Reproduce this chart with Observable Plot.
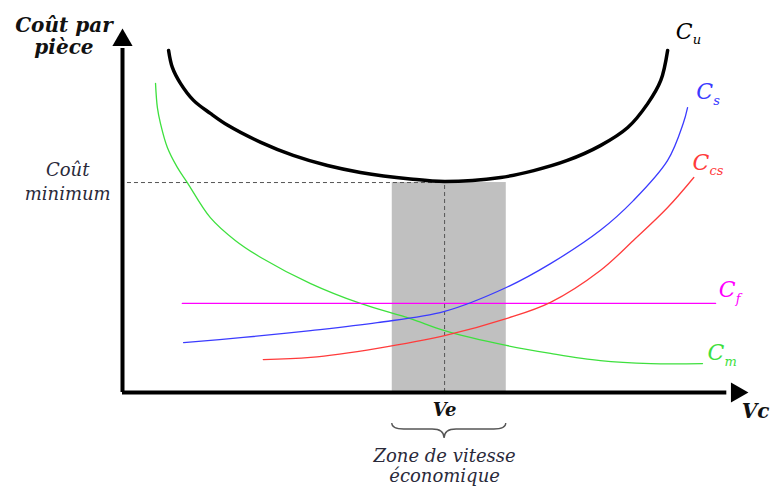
<!DOCTYPE html>
<html><head><meta charset="utf-8">
<script src="https://cdn.jsdelivr.net/npm/d3@7"></script>
<script src="https://cdn.jsdelivr.net/npm/@observablehq/plot@0.6"></script>
<style>body{margin:0;background:#fff}</style>
</head><body><div id="chart"></div>
<script>
// Curves (x = cutting speed Vc, y = cost per part), arbitrary units 0..100
const cuX = [7.4, 8.0, 9.3, 11.4, 14.1, 16.9, 22.2, 27.4, 32.9, 38.2, 46.2, 51.7, 60.7, 66.0, 71.4, 76.7, 81.1, 84.3, 86.4, 87.5];
const cuY = [94.5, 89.8, 85.4, 80.7, 77.1, 73.8, 69.1, 65.5, 62.7, 60.8, 59.0, 58.3, 59.4, 61.3, 64.1, 68.2, 73.2, 79.8, 86.2, 94.5];
const csX = [9.8, 19.4, 30.2, 40.9, 51.7, 61.6, 68.7, 76.7, 82.0, 87.5, 90.0, 90.7];
const csY = [13.8, 15.2, 17.1, 19.3, 22.4, 29.0, 35.6, 44.8, 53.0, 64.1, 74.3, 78.7];
const ccsX = [22.6, 30.2, 40.9, 51.7, 61.6, 68.7, 76.7, 82.0, 87.5, 91.7];
const ccsY = [9.1, 9.7, 12.2, 15.7, 20.4, 24.9, 33.7, 42.0, 51.1, 59.4];
const cfX = [9.6, 95.2];
const cfY = [24.6, 24.6];
const cmX = [5.3, 5.6, 6.1, 7.2, 8.8, 10.4, 14.1, 18.1, 22.2, 30.2, 38.2, 46.2, 51.7, 61.6, 68.7, 76.7, 84.8, 93.1];
const cmY = [85.4, 78.7, 74.3, 67.7, 62.2, 58.0, 48.3, 42.0, 37.3, 30.1, 24.6, 20.4, 17.1, 13.0, 10.8, 8.8, 8.0, 8.0];

const veX = 51.7;           // economic speed
const coutMin = 58.0;       // minimum cost
const zoneX = [43.3, 61.6]; // economic speed zone

// Curve labels
const labelNames = ["C", "C", "C", "C", "C"];
const labelSubs = ["u", "s", "cs", "f", "m"];
const labelX = [88.8, 92.1, 91.5, 95.7, 93.9];
const labelY = [99.7, 82.9, 63.5, 28.2, 10.8];
const labelColors = ["#000000", "#3b3bff", "#ff3b3b", "#ff00ff", "#3ee03e"];
const labelBold = [true, false, false, false, false];

const serif = "'DejaVu Serif', serif";
const toPts = (xs, ys) => xs.map((x, i) => ({x, y: ys[i]}));
const labels = labelNames.map((n, i) => ({n, s: labelSubs[i], x: labelX[i], y: labelY[i], c: labelColors[i], b: labelBold[i]}));

function brace(index, scales) {
  const x0 = scales.x(zoneX[0]), x1 = scales.x(zoneX[1]), xm = scales.x(veX);
  const y0 = scales.y(0);
  const yTop = y0 + 31, yMid = y0 + 37, yTip = y0 + 46;
  const d = `M${x0},${yTop} Q${x0},${yMid} ${x0 + 12},${yMid} L${xm - 12},${yMid} Q${xm},${yMid} ${xm},${yTip} Q${xm},${yMid} ${xm + 12},${yMid} L${x1 - 12},${yMid} Q${x1},${yMid} ${x1},${yTop}`;
  return d3.create("svg:path").attr("d", d).attr("fill", "none").attr("stroke", "#555").attr("stroke-width", 1.3).node();
}

const lineOpts = (stroke, w) => ({x: "x", y: "y", stroke, strokeWidth: w, curve: "catmull-rom"});

const chart = Plot.plot({
  width: 771, height: 488,
  marginLeft: 122, marginRight: 26, marginTop: 30, marginBottom: 96,
  x: {domain: [0, 100], axis: null},
  y: {domain: [0, 100], axis: null},
  style: {fontFamily: serif, background: "#fff"},
  marks: [
    Plot.rectX([{x1: zoneX[0], x2: zoneX[1]}], {x1: "x1", x2: "x2", y1: 0, y2: coutMin, fill: "#c0c0c0"}),
    Plot.ruleY([coutMin], {x1: 0.8, x2: veX, stroke: "#555", strokeWidth: 1, strokeDasharray: "4,3"}),
    Plot.ruleX([veX], {y1: 0, y2: coutMin, stroke: "#555", strokeWidth: 1, strokeDasharray: "4,3"}),
    Plot.line(toPts(cmX, cmY), lineOpts("#3ee03e", 1.3)),
    Plot.line(toPts(cfX, cfY), lineOpts("#ff00ff", 1.3)),
    Plot.line(toPts(ccsX, ccsY), lineOpts("#ff3b3b", 1.3)),
    Plot.line(toPts(csX, csY), lineOpts("#3b3bff", 1.3)),
    Plot.line(toPts(cuX, cuY), lineOpts("#000", 3.5)),
    // axes with arrows
    Plot.ruleX([0], {y1: 0, y2: 95, stroke: "#000", strokeWidth: 4}),
    Plot.ruleY([0], {x1: 0, x2: 97, stroke: "#000", strokeWidth: 4}),
    Plot.dot([{x: 0, y: 97.3}], {x: "x", y: "y", symbol: "triangle", r: 7.5, fill: "#000", stroke: null}),
    Plot.dot([{x: 98.6, y: 0}], {x: "x", y: "y", symbol: "triangle", r: 7.5, fill: "#000", stroke: null, rotate: 90}),
    brace,
    // curve labels
    Plot.text(labels, {x: "x", y: "y", text: "n", fill: "c", textAnchor: "start", fontSize: 22, fontStyle: "italic", fontWeight: d => d.b ? "bold" : "normal"}),
    Plot.text(labels, {x: "x", y: "y", text: "s", fill: "c", textAnchor: "start", dx: 17, dy: 8, fontSize: 13, fontStyle: "italic", fontWeight: d => d.b ? "bold" : "normal"}),
    // axis titles and annotations
    Plot.text(["Coût par\npièce"], {x: -9.4, y: 98.6, fill: "#111", fontSize: 20, fontStyle: "italic", fontWeight: "bold", lineHeight: 1.1}),
    Plot.text(["Coût\nminimum"], {x: -8.8, y: 58.6, fill: "#2a2a3a", fontSize: 18, fontStyle: "italic", lineHeight: 1.35}),
    Plot.text(["Vc"], {x: 99.4, y: -5.2, textAnchor: "start", fill: "#111", fontSize: 20, fontStyle: "italic", fontWeight: "bold"}),
    Plot.text(["Ve"], {x: veX, y: -5.0, fill: "#111", fontSize: 18, fontStyle: "italic", fontWeight: "bold"}),
    Plot.text(["Zone de vitesse\néconomique"], {x: veX, y: -20.2, fill: "#2a2a3a", fontSize: 18, fontStyle: "italic", lineHeight: 1.12})
  ]
});
document.getElementById("chart").appendChild(chart);
</script>
</body></html>
